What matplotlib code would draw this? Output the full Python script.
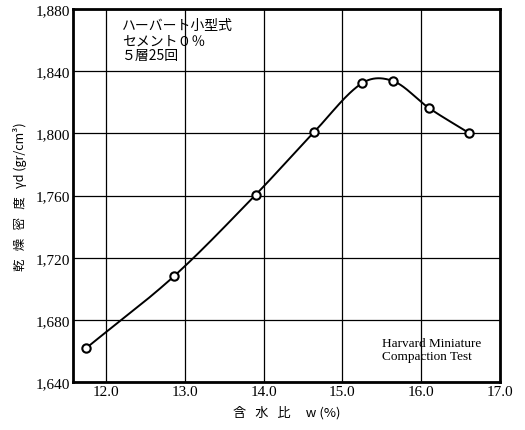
import numpy as np
import matplotlib
matplotlib.use("Agg")
import matplotlib.pyplot as plt

# moisture content w (%) and dry density (gr/cm3 x 1000)
water = [11.75, 12.86, 13.90, 14.64, 15.25, 15.65, 16.10, 16.61]
density = [1662, 1708, 1760.5, 1800.7, 1832.2, 1833.5, 1816.3, 1800.2]

x_ticks = [12.0, 13.0, 14.0, 15.0, 16.0, 17.0]
y_ticks = [1640, 1680, 1720, 1760, 1800, 1840, 1880]

plt.rcParams['font.family'] = ['Liberation Serif', 'Noto Sans CJK JP']


def smooth_curve(x, y, n=40):
    # cubic hermite through the measured points, tangents from neighbours
    x = np.asarray(x, float)
    y = np.asarray(y, float)
    k = len(x)
    m = np.zeros(k)
    m[0] = (y[1] - y[0]) / (x[1] - x[0])
    m[-1] = (y[-1] - y[-2]) / (x[-1] - x[-2])
    for i in range(1, k - 1):
        m[i] = (y[i + 1] - y[i - 1]) / (x[i + 1] - x[i - 1])
    xs_all, ys_all = [], []
    for i in range(k - 1):
        h = x[i + 1] - x[i]
        t = np.linspace(0, 1, n)
        h00 = 2 * t ** 3 - 3 * t ** 2 + 1
        h10 = t ** 3 - 2 * t ** 2 + t
        h01 = -2 * t ** 3 + 3 * t ** 2
        h11 = t ** 3 - t ** 2
        xs_all.append(x[i] + t * h)
        ys_all.append(h00 * y[i] + h10 * h * m[i] + h01 * y[i + 1] + h11 * h * m[i + 1])
    return np.concatenate(xs_all), np.concatenate(ys_all)


fig = plt.figure(figsize=(5.25, 4.31), dpi=100)
ax = fig.add_axes([0.139, 0.111, 0.813, 0.866])

xs, ys = smooth_curve(water, density)
ax.plot(xs, ys, color='black', lw=1.4, zorder=3)
ax.plot(water, density, 'o', ms=6, mfc='white', mec='black', mew=1.5, zorder=4)

ax.set_xlim(11.58, 17.0)
ax.set_ylim(1640, 1880)
ax.set_xticks(x_ticks)
ax.set_yticks(y_ticks)
ax.set_xticklabels(['%.1f' % v for v in x_ticks], fontsize=11)
ax.set_yticklabels(['{:,}'.format(v) for v in y_ticks], fontsize=11)
ax.tick_params(length=0, pad=2)
ax.grid(True, color='black', lw=0.9)
for s in ax.spines.values():
    s.set_linewidth(2)

ax.set_xlabel('含   水   比     w (%)', fontsize=9.5,
              family=['Noto Sans CJK JP', 'Liberation Serif'], labelpad=5)
ax.set_ylabel('乾   燥   密   度   γd (gr/cm³)', fontsize=9,
              family=['Noto Sans CJK JP', 'DejaVu Serif'], labelpad=6)

ax.text(0.115, 0.975, 'ハーバート小型式\nセメント０％\n５層25回', transform=ax.transAxes,
        va='top', ha='left', fontsize=10, linespacing=1.1,
        family=['Noto Sans CJK JP', 'DejaVu Sans'])
ax.text(0.725, 0.088, 'Harvard Miniature\nCompaction Test', transform=ax.transAxes,
        va='center', ha='left', fontsize=9.5, linespacing=1.15)

fig.savefig('out.png', dpi=100)
